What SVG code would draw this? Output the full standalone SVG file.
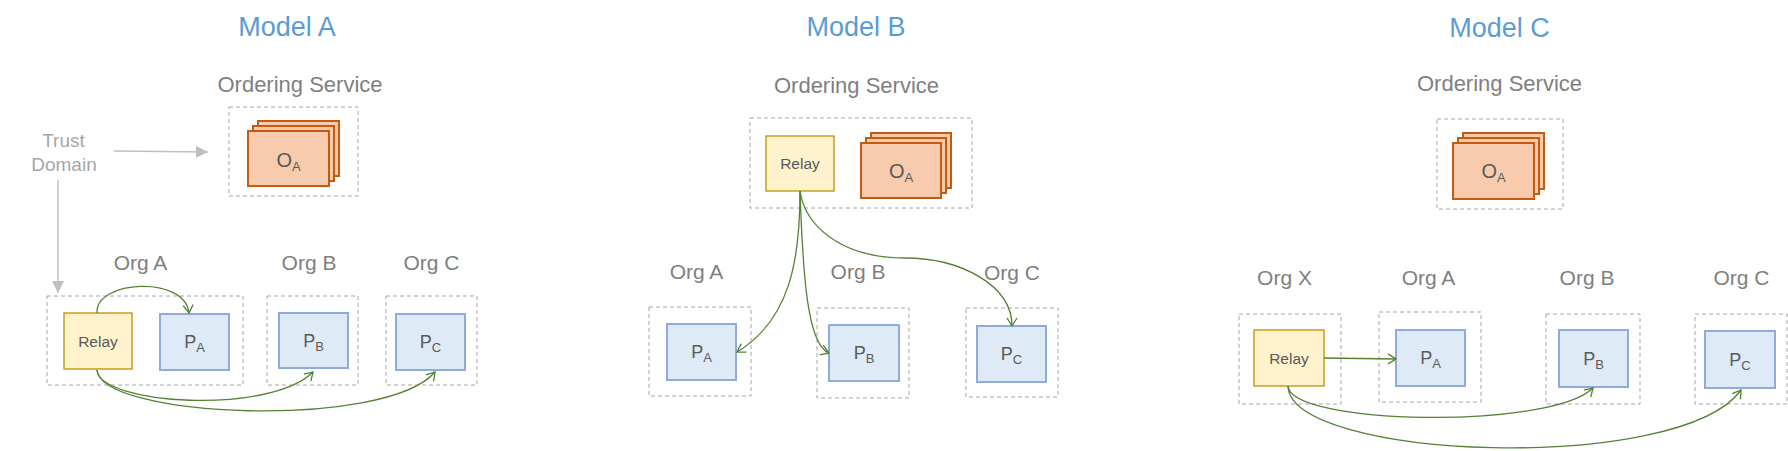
<svg xmlns="http://www.w3.org/2000/svg" width="1788" height="451" viewBox="0 0 1788 451">
<style>
text{font-family:"Liberation Sans",Arial,sans-serif}
.title{font-size:27px;fill:#5B9BD5;text-anchor:middle}
.lbl{font-size:22px;fill:#7F7F7F;text-anchor:middle}
.org{font-size:21px;fill:#7F7F7F;text-anchor:middle}
.td{font-size:19px;fill:#A6A6A6;text-anchor:middle}
.dash{fill:none;stroke:#A6A6A6;stroke-width:1;stroke-dasharray:4 3}
.ord{fill:#F8CBAD;stroke:#C55A11;stroke-width:2}
.peer{fill:#DEEBF7;stroke:#8FAADC;stroke-width:2}
.relay{fill:#FFF2CC;stroke:#BF9000;stroke-width:1.3}
.rt{font-size:15.5px;fill:#595959;text-anchor:middle}
.ot{font-size:20px;fill:#595959;text-anchor:middle}
.pt{font-size:18px;fill:#595959;text-anchor:middle}
.sub{font-size:13px}
.g{fill:none;stroke:#548235;stroke-width:1.3;marker-end:url(#ga)}
.gray{fill:none;stroke:#BFBFBF;stroke-width:1.5;marker-end:url(#gt)}
</style>
<defs>
<marker id="ga" markerUnits="userSpaceOnUse" viewBox="0 0 10 12" markerWidth="10" markerHeight="12" refX="9" refY="6" orient="auto">
<path d="M1,1 L9,6 L1,11" fill="none" stroke="#548235" stroke-width="1.3"/>
</marker>
<marker id="gt" markerUnits="userSpaceOnUse" viewBox="0 0 12 12" markerWidth="12" markerHeight="12" refX="12" refY="6" orient="auto">
<path d="M0,0 L12,6 L0,12 z" fill="#BFBFBF"/>
</marker>
</defs>

<!-- Model A -->
<g id="titleA"><text class="title" x="287" y="36">Model A</text></g>
<g id="trust-domain">
<text class="td" x="63.5" y="147">Trust</text>
<text class="td" x="64" y="171">Domain</text>
</g>
<g id="osA">
<text class="lbl" x="300" y="92">Ordering Service</text>
<rect class="dash" x="229" y="107" width="129" height="89"/>
<rect class="ord" x="258" y="121" width="81" height="55"/>
<rect class="ord" x="253" y="126" width="81" height="55"/>
<rect class="ord" x="248" y="131" width="81" height="55"/>
<text class="ot" x="288.5" y="166.5">O<tspan class="sub" dy="4">A</tspan></text>
</g>
<g id="orgA-A">
<text class="org" x="140.5" y="270">Org A</text>
<rect class="dash" x="47" y="296" width="196" height="89"/>
<rect class="relay" x="64" y="313" width="68" height="56"/>
<text class="rt" x="98" y="347">Relay</text>
<rect class="peer" x="160" y="314" width="69" height="56"/>
<text class="pt" x="194.5" y="348">P<tspan class="sub" dy="4">A</tspan></text>
</g>
<g id="orgB-A">
<text class="org" x="309" y="270">Org B</text>
<rect class="dash" x="267" y="296" width="91" height="89"/>
<rect class="peer" x="279" y="313" width="69" height="55"/>
<text class="pt" x="313.5" y="347">P<tspan class="sub" dy="4">B</tspan></text>
</g>
<g id="orgC-A">
<text class="org" x="431.5" y="270">Org C</text>
<rect class="dash" x="386" y="296" width="91" height="89"/>
<rect class="peer" x="396" y="314" width="69" height="56"/>
<text class="pt" x="430.5" y="348">P<tspan class="sub" dy="4">C</tspan></text>
</g>

<!-- Model B -->
<g id="titleB"><text class="title" x="856" y="36">Model B</text></g>
<g id="osB">
<text class="lbl" x="856.5" y="93">Ordering Service</text>
<rect class="dash" x="750" y="118" width="222" height="90"/>
<rect class="relay" x="766" y="136" width="68" height="55"/>
<text class="rt" x="800" y="169">Relay</text>
<rect class="ord" x="871" y="133" width="80" height="55"/>
<rect class="ord" x="866" y="138" width="80" height="55"/>
<rect class="ord" x="861" y="143" width="80" height="55"/>
<text class="ot" x="901" y="178">O<tspan class="sub" dy="4">A</tspan></text>
</g>
<g id="orgA-B">
<text class="org" x="696.5" y="279">Org A</text>
<rect class="dash" x="649" y="307" width="102" height="89"/>
<rect class="peer" x="667" y="324" width="69" height="56"/>
<text class="pt" x="701.5" y="358">P<tspan class="sub" dy="4">A</tspan></text>
</g>
<g id="orgB-B">
<text class="org" x="858" y="279">Org B</text>
<rect class="dash" x="817" y="308" width="92" height="90"/>
<rect class="peer" x="829" y="325" width="70" height="56"/>
<text class="pt" x="864" y="359">P<tspan class="sub" dy="4">B</tspan></text>
</g>
<g id="orgC-B">
<text class="org" x="1012" y="280">Org C</text>
<rect class="dash" x="966" y="308" width="92" height="89"/>
<rect class="peer" x="977" y="326" width="69" height="56"/>
<text class="pt" x="1011.5" y="360">P<tspan class="sub" dy="4">C</tspan></text>
</g>

<!-- Model C -->
<g id="titleC"><text class="title" x="1499.5" y="37">Model C</text></g>
<g id="osC">
<text class="lbl" x="1499.5" y="91">Ordering Service</text>
<rect class="dash" x="1437" y="119" width="126" height="90"/>
<rect class="ord" x="1463" y="133" width="81" height="56"/>
<rect class="ord" x="1458" y="138" width="81" height="56"/>
<rect class="ord" x="1453" y="143" width="81" height="56"/>
<text class="ot" x="1493.5" y="178">O<tspan class="sub" dy="4">A</tspan></text>
</g>
<g id="orgX-C">
<text class="org" x="1284.5" y="285">Org X</text>
<rect class="dash" x="1239" y="314" width="102" height="90"/>
<rect class="relay" x="1254" y="330" width="70" height="56"/>
<text class="rt" x="1289" y="364">Relay</text>
</g>
<g id="orgA-C">
<text class="org" x="1428.5" y="285">Org A</text>
<rect class="dash" x="1379" y="312" width="102" height="90"/>
<rect class="peer" x="1396" y="330" width="69" height="56"/>
<text class="pt" x="1430.5" y="364">P<tspan class="sub" dy="4">A</tspan></text>
</g>
<g id="orgB-C">
<text class="org" x="1587" y="285">Org B</text>
<rect class="dash" x="1546" y="314" width="94" height="90"/>
<rect class="peer" x="1559" y="330" width="69" height="57"/>
<text class="pt" x="1593.5" y="365">P<tspan class="sub" dy="4">B</tspan></text>
</g>
<g id="orgC-C">
<text class="org" x="1741.5" y="285">Org C</text>
<rect class="dash" x="1695" y="314" width="92" height="90"/>
<rect class="peer" x="1705" y="331" width="70" height="57"/>
<text class="pt" x="1740" y="366">P<tspan class="sub" dy="4">C</tspan></text>
</g>

<!-- connectors -->
<g id="connectors">
<path class="gray" d="M114,151 L208,152"/>
<path class="gray" d="M58,180 L58,293"/>
<path class="g" d="M97,313 C95,280 185,275 189,313"/>
<path class="g" d="M97,370 C100,405 270,415 313,372"/>
<path class="g" d="M97,370 C100,418 385,430 435,372"/>
<path class="g" d="M800,191 C800,260 790,320 737,352"/>
<path class="g" d="M800,191 C803,280 808,345 829,353"/>
<path class="g" d="M800,191 C805,225 840,258 905,258 C960,258 1012,285 1012,326"/>
<path class="g" d="M1324,358 L1396,359"/>
<path class="g" d="M1288,386 C1290,425 1550,430 1593,388"/>
<path class="g" d="M1288,386 C1290,460 1680,475 1741,390"/>
</g>
</svg>
